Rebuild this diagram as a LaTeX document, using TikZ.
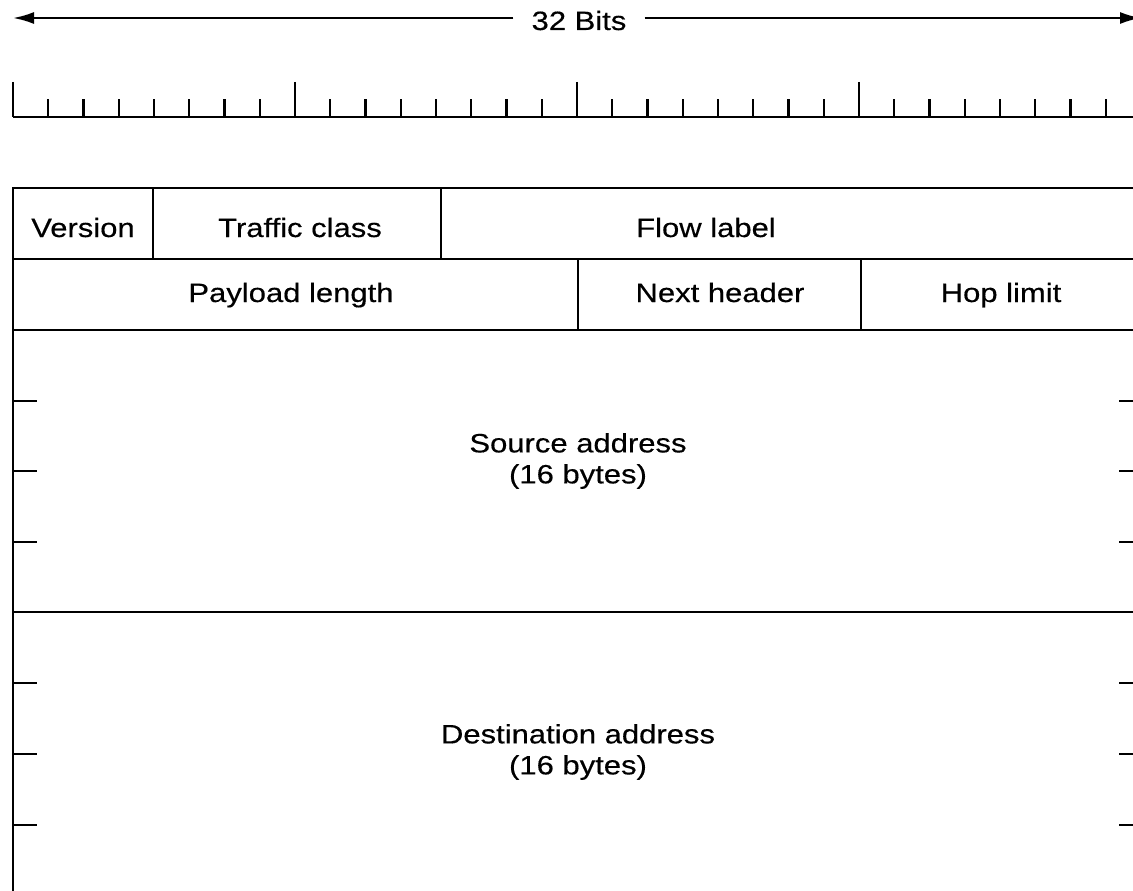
\documentclass[tikz,border=0pt]{standalone}
\usepackage{fontspec}
\setmainfont{Liberation Sans}[FakeStretch=1.17,FakeBold=0.4]
\usetikzlibrary{arrows.meta}
\begin{document}
\begin{tikzpicture}[x=1pt,y=-1pt,line cap=butt,
  rule/.style={line width=2.3pt},
  divider/.style={line width=2pt},
  lbl/.style={font=\fontsize{26.5}{31}\selectfont,inner sep=0pt,align=center},
  dim/.style={line width=2.3pt,-{Latex[length=21pt,width=12pt]}}]
\path[use as bounding box,clip] (0,0) rectangle (1133,891);
% width arrow
\coordinate (L) at (13,18);
\coordinate (R) at (1141,18);
\node[lbl,anchor=base,inner xsep=18pt] (bits) at (579,30) {32 Bits};
\draw[dim] (bits.west |- L) -- (L);
\draw[dim] (bits.east |- R) -- (R);
% ruler
\draw[rule] (13,117) -- (1141,117);
\foreach \i in {0,8,16,24,32}
  \draw[rule] ({13+35.25*\i},82) -- ({13+35.25*\i},117);
\foreach \i in {1,...,7,9,10,...,15,17,18,...,23,25,26,...,31}
  \draw[rule] ({13+35.25*\i},99) -- ({13+35.25*\i},117);
% table frame
\draw[rule] (13,900) -- (13,188) -- (1141,188) -- (1141,900);
\draw[rule] (13,259) -- (1141,259);
\draw[rule] (13,330) -- (1141,330);
\draw[rule] (13,612) -- (1141,612);
\draw[divider] (153,188) -- (153,259);
\draw[divider] (441,188) -- (441,259);
\draw[divider] (578,259) -- (578,330);
\draw[divider] (861,259) -- (861,330);
% word marks on the address fields
\foreach \y in {401,471,542,683,754,825} {
  \draw[rule] (13,\y) -- (37,\y);
  \draw[rule] (1119,\y) -- (1141,\y);
}
% labels
\node[lbl,anchor=base] (version) at (83,237) {Version};
\node[lbl,anchor=base] (traffic) at (300,237) {Traffic class};
\node[lbl,anchor=base] (flow) at (706,237) {Flow label};
\node[lbl,anchor=base] (payload) at (291,302) {Payload length};
\node[lbl,anchor=base] (next) at (720,302) {Next header};
\node[lbl,anchor=base] (hop) at (1001,302) {Hop limit};
\node[lbl] (src) at (578,461) {Source address\\(16 bytes)};
\node[lbl] (dst) at (578,752) {Destination address\\(16 bytes)};
\end{tikzpicture}
\end{document}
